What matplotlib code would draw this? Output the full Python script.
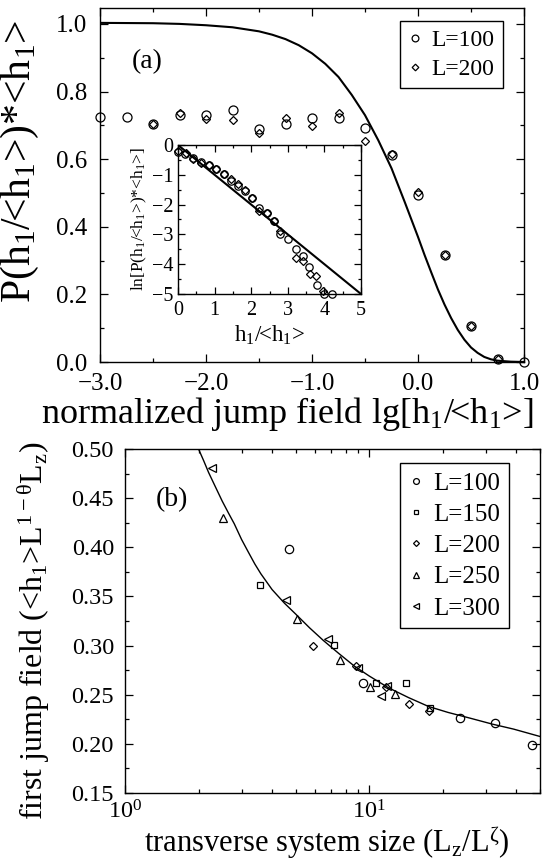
import matplotlib
matplotlib.use('Agg')
import matplotlib.pyplot as plt
from matplotlib.ticker import MultipleLocator, FuncFormatter, LogLocator

plt.rcParams['font.family'] = ['Liberation Serif', 'DejaVu Serif']
plt.rcParams['mathtext.fontset'] = 'custom'
plt.rcParams['mathtext.rm'] = 'Liberation Serif'
plt.rcParams['mathtext.it'] = 'Liberation Serif:italic'
plt.rcParams['axes.linewidth'] = 1.0

# ---- panel (a): distribution of first jump field ----
lg_h = [-3.0, -2.75, -2.5, -2.25, -2.0, -1.75, -1.5, -1.25, -1.0, -0.75, -0.5,
        -0.25, 0.0, 0.25, 0.5, 0.75, 1.0]
p100 = [0.724, 0.724, 0.705, 0.731, 0.731, 0.746, 0.689, 0.704, 0.721, 0.721,
        0.692, 0.613, 0.495, 0.315, 0.106, 0.010, 0.0]
lg_h200 = [-2.5, -2.25, -2.0, -1.75, -1.5, -1.25, -1.0, -0.75, -0.5, -0.25,
           0.0, 0.25, 0.5, 0.75]
p200 = [0.705, 0.736, 0.719, 0.717, 0.677, 0.721, 0.697, 0.736, 0.653, 0.615,
        0.503, 0.315, 0.106, 0.010]
# curve
curve_x = [-3.0, -2.5, -2.25, -2.0, -1.75, -1.5, -1.375, -1.25, -1.125, -1.0,
           -0.875, -0.75, -0.625, -0.5, -0.375, -0.25, -0.125, 0.0, 0.0625,
           0.125, 0.1875, 0.25, 0.3125, 0.375, 0.4375, 0.5, 0.5625, 0.625,
           0.6875, 0.75, 0.875, 1.0]
curve_y = [1.003, 1.002, 1.0, 0.996, 0.99, 0.978, 0.968, 0.955, 0.937, 0.913,
           0.882, 0.843, 0.79, 0.73, 0.656, 0.573, 0.473, 0.37, 0.316, 0.265,
           0.215, 0.17, 0.13, 0.095, 0.066, 0.043, 0.027, 0.015, 0.008, 0.004,
           0.001, 0.0]

# inset: ln P vs h/<h>
in_x100 = [0.0, 0.19, 0.41, 0.63, 0.84, 1.03, 1.25, 1.44, 1.63, 1.83, 2.02, 2.21,
           2.43, 2.63, 2.79, 3.01, 3.22, 3.41, 3.58, 3.79, 3.99, 4.2]
in_y100 = [-0.23, -0.31, -0.42, -0.56, -0.67, -0.81, -0.98, -1.2, -1.37, -1.53,
           -1.79, -2.12, -2.28, -2.56, -2.98, -3.17, -3.5, -3.72, -4.08, -4.69,
           -5.0, -5.0]
in_x200 = [0.0, 0.22, 0.41, 0.63, 0.84, 1.03, 1.25, 1.44, 1.63, 1.83, 2.02, 2.21,
           2.43, 2.63, 2.79, 3.22, 3.41, 3.6, 3.77, 3.97]
in_y200 = [-0.2, -0.28, -0.46, -0.59, -0.67, -0.79, -0.98, -1.15, -1.32, -1.51,
           -1.77, -2.2, -2.28, -2.56, -2.9, -3.79, -3.89, -4.32, -4.41, -4.91]
line_x = [0, 5]
line_y = [0, -5]

# ---- panel (b): mean first jump field vs transverse size ----
x100 = [4.71, 9.4, 23.5, 32.8, 46.5]
y100 = [0.398, 0.262, 0.226, 0.221, 0.199]
x150 = [3.57, 7.15, 10.7, 14.2, 17.8]
y150 = [0.362, 0.301, 0.262, 0.262, 0.236]
x200 = [5.9, 8.85, 11.7, 14.6, 17.5]
y200 = [0.300, 0.279, 0.258, 0.241, 0.233]
x250 = [2.53, 5.08, 7.6, 10.1, 12.7]
y250 = [0.430, 0.327, 0.285, 0.258, 0.251]
x300 = [2.27, 4.55, 6.77, 8.99, 11.2, 11.8]
y300 = [0.481, 0.346, 0.307, 0.277, 0.249, 0.259]
fit_x = [2.0, 2.1, 2.2, 2.35, 2.5, 2.65, 2.8, 3.0, 3.2, 3.4, 3.6, 4.0, 4.5, 5.0,
         5.7, 6.5, 7.5, 8.7, 10, 12, 14.5, 17.5, 21, 26, 32, 39, 50]
fit_y = [0.500, 0.488, 0.476, 0.461, 0.447, 0.435, 0.424, 0.408, 0.395, 0.383,
         0.373, 0.357, 0.343, 0.332, 0.318, 0.305, 0.292, 0.279, 0.269, 0.257,
         0.247, 0.238, 0.232, 0.226, 0.220, 0.215, 0.2075]

W, H = 548, 863
fig = plt.figure(figsize=(W / 100, H / 100), dpi=100)


def px_axes(l, t, r, b):
    return fig.add_axes([l / W, 1 - b / H, (r - l) / W, (b - t) / H])


def fmt(pattern):
    return FuncFormatter(lambda v, p: (pattern % v).replace('-', '\u2212'))


def style(ax, size):
    ax.tick_params(which='both', direction='in', top=True, right=True,
                   labelsize=size, width=0.9)
    ax.tick_params(which='major', length=6)
    ax.tick_params(which='minor', length=3)


mk = dict(mfc='none', mec='black', mew=0.9, ls='none', clip_on=False)

# top panel
ax1 = px_axes(100, 8, 524, 362)
ax1.plot(curve_x, curve_y, color='black', lw=1.5)
ax1.plot(lg_h, p100, marker='o', ms=6.5, label='L=100', **mk)
ax1.plot(lg_h200, p200, marker='D', ms=4.5, label='L=200', **mk)
ax1.set_xlim(-3.0, 1.0)
ax1.set_ylim(0.0, 1.047)
ax1.xaxis.set_major_locator(MultipleLocator(1.0))
ax1.xaxis.set_minor_locator(MultipleLocator(0.5))
ax1.yaxis.set_major_locator(MultipleLocator(0.2))
ax1.yaxis.set_minor_locator(MultipleLocator(0.1))
ax1.xaxis.set_major_formatter(fmt('%.1f'))
ax1.yaxis.set_major_formatter(fmt('%.1f'))
style(ax1, 18)
ax1.tick_params(axis='x', pad=8)
ax1.tick_params(axis='y', pad=9)
ax1.set_xlabel(r'normalized jump field lg[$\mathrm{h_1}$/<$\mathrm{h_1}$>]',
               fontsize=26)
ax1.xaxis.set_label_coords(0.441, -0.092)
ax1.set_ylabel(r'P($\mathrm{h_1}$/<$\mathrm{h_1}$>)*<$\mathrm{h_1}$>',
               fontsize=30)
ax1.yaxis.set_label_coords(-0.14, 0.566)
ax1.text(-2.7, 0.888, '(a)', fontsize=20, va='center')
leg1 = ax1.legend(loc='upper right', bbox_to_anchor=(0.95, 0.962), fontsize=17,
                  frameon=True, fancybox=False, edgecolor='black', framealpha=1,
                  handlelength=0.6, handletextpad=0.4, borderpad=0.35,
                  labelspacing=0.3, markerscale=0.75, borderaxespad=0)
leg1.get_frame().set_linewidth(1.0)

# inset
ax2 = px_axes(178, 145, 361, 294)
ax2.plot(line_x, line_y, color='black', lw=1.5)
ax2.plot(in_x100, in_y100, marker='o', ms=5.3, **mk)
ax2.plot(in_x200, in_y200, marker='D', ms=3.8, **mk)
ax2.set_xlim(0, 5)
ax2.set_ylim(-5, 0)
ax2.xaxis.set_major_locator(MultipleLocator(1))
ax2.xaxis.set_minor_locator(MultipleLocator(0.5))
ax2.yaxis.set_major_locator(MultipleLocator(1))
ax2.yaxis.set_minor_locator(MultipleLocator(0.5))
ax2.xaxis.set_major_formatter(fmt('%d'))
ax2.yaxis.set_major_formatter(fmt('%d'))
style(ax2, 14.5)
ax2.tick_params(which='major', length=5)
ax2.tick_params(which='minor', length=2.5)
ax2.tick_params(axis='x', pad=5)
ax2.set_xlabel(r'$\mathrm{h_1}$/<$\mathrm{h_1}$>', fontsize=16.5, labelpad=3)
ax2.set_ylabel(r'ln[P($\mathrm{h_1}$/<$\mathrm{h_1}$>)*<$\mathrm{h_1}$>]',
               fontsize=12.5, labelpad=2)

# bottom panel
ax3 = px_axes(125, 449, 540, 793)
ax3.set_xscale('log')
ax3.plot(fit_x, fit_y, color='black', lw=1.0)
ax3.plot(x100, y100, marker='o', ms=6, label='L=100', **mk)
ax3.plot(x150, y150, marker='s', ms=4.8, label='L=150', **mk)
ax3.plot(x200, y200, marker='D', ms=4.3, label='L=200', **mk)
ax3.plot(x250, y250, marker='^', ms=6, label='L=250', **mk)
ax3.plot(x300, y300, marker='<', ms=6, label='L=300', **mk)
ax3.set_xlim(1, 50)
ax3.set_ylim(0.15, 0.50)
ax3.xaxis.set_major_locator(LogLocator(base=10))
ax3.xaxis.set_minor_locator(LogLocator(base=10, subs=range(2, 10)))
ax3.yaxis.set_major_locator(MultipleLocator(0.05))
ax3.yaxis.set_minor_locator(MultipleLocator(0.025))
ax3.yaxis.set_major_formatter(fmt('%.2f'))
style(ax3, 17.5)
ax3.tick_params(axis='x', pad=5)
ax3.tick_params(axis='y', pad=8)
ax3.set_xlabel(r'transverse system size ($\mathrm{L_z/L^{\zeta}}$)',
               fontsize=22)
ax3.xaxis.set_label_coords(0.487, -0.088)
ax3.set_ylabel(r'first jump field (<$\mathrm{h_1}$>$\mathrm{L^{1-\theta}L_z}$)',
               fontsize=23)
ax3.yaxis.set_label_coords(-0.176, 0.47)
ax3.text(1.33, 0.448, '(b)', fontsize=20, va='center')
leg3 = ax3.legend(loc='upper right', bbox_to_anchor=(0.926, 0.958), fontsize=18,
                  frameon=True, fancybox=False, edgecolor='black', framealpha=1,
                  handlelength=0.6, handletextpad=0.4, borderpad=0.35,
                  labelspacing=0.35, markerscale=0.7, borderaxespad=0)
leg3.get_frame().set_linewidth(1.0)

fig.savefig('out.png', dpi=100)
